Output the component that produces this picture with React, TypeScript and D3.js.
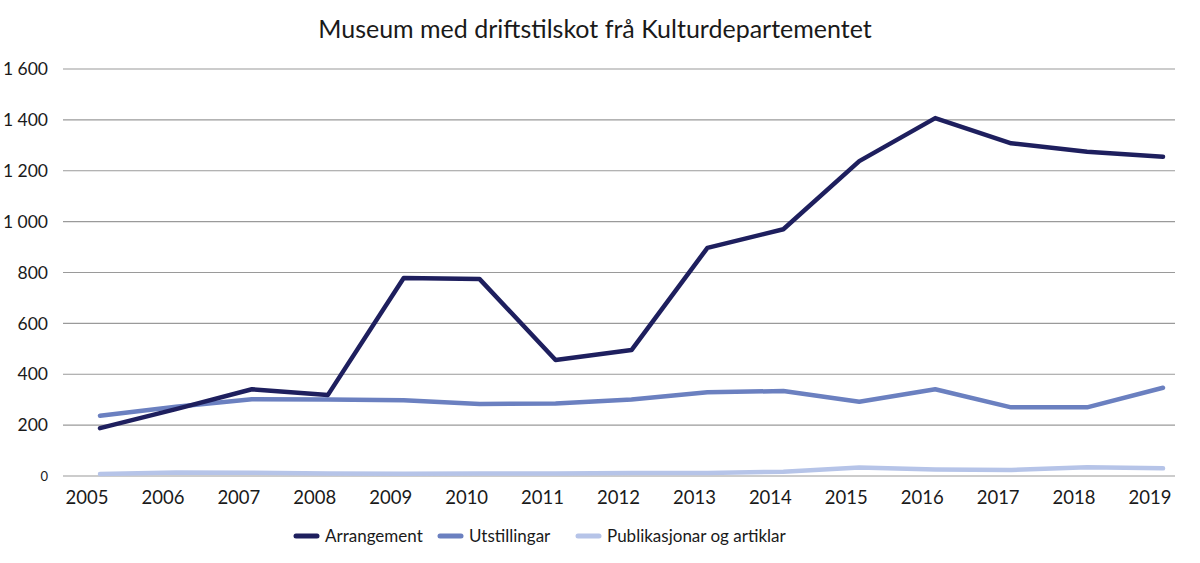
import React from "react";
import * as d3 from "d3";

const years = [2005, 2006, 2007, 2008, 2009, 2010, 2011, 2012, 2013, 2014, 2015, 2016, 2017, 2018, 2019];
const arrangement = [188, 263, 341, 318, 778, 774, 456, 495, 897, 970, 1238, 1407, 1308, 1275, 1255];
const utstillingar = [237, 272, 302, 301, 298, 283, 285, 301, 329, 334, 292, 341, 270, 270, 347];
const publikasjonar = [8, 14, 13, 10, 9, 10, 10, 12, 12, 17, 33, 26, 24, 34, 30];
const yTicks = [0, 200, 400, 600, 800, 1000, 1200, 1400, 1600];
const seriesNames = ["Arrangement", "Utstillingar", "Publikasjonar og artiklar"];
const colors = ["#1e1f5e", "#6b80c0", "#b6c4e8"];
const title = "Museum med driftstilskot frå Kulturdepartementet";

const W = 1200, H = 563;
const FONT = "Lato, 'Open Sans', sans-serif";

export default function App() {
  const x = d3.scaleLinear().domain([2005, 2019]).range([100, 1163]);
  const y = d3.scaleLinear().domain([0, 1600]).range([476, 69]);
  const line = d3.line<number>().x((_, i) => x(years[i])).y((d) => y(d));
  const all = [arrangement, utstillingar, publikasjonar];
  const fmt = (v: number) => d3.format(",")(v).replace(",", " ");
  const legendX = [296, 440, 578];

  return (
    <svg width={W} height={H} style={{ position: "absolute", left: 0, top: 0, background: "#fff" }} fontFamily={FONT}>
      <text x={595} y={38} textAnchor="middle" fontSize={25} fill="#1a1a1a">{title}</text>
      {yTicks.map((t) => (
        <g key={t}>
          <line x1={63} x2={1175} y1={y(t)} y2={y(t)} stroke="#9a9a9a" strokeWidth={1.2} />
          <text x={48} y={y(t)} dy="0.35em" textAnchor="end" fontSize={t === 0 ? 13 : 17.5} fill="#1a1a1a">{fmt(t)}</text>
        </g>
      ))}
      {years.map((yr) => (
        <text key={yr} x={x(yr) - 13} y={504} textAnchor="middle" fontSize={18.5} fill="#1a1a1a">{yr}</text>
      ))}
      {all.slice().reverse().map((s, ri) => {
        const i = all.length - 1 - ri;
        return <path key={i} d={line(s) || ""} fill="none" stroke={colors[i]} strokeWidth={4.5} strokeLinecap="round" strokeLinejoin="round" />;
      })}
      {seriesNames.map((n, i) => (
        <g key={n}>
          <line x1={legendX[i]} x2={legendX[i] + 21} y1={536} y2={536} stroke={colors[i]} strokeWidth={5} strokeLinecap="round" />
          <text x={legendX[i] + 29} y={536} dy="0.35em" fontSize={17} fill="#1a1a1a">{n}</text>
        </g>
      ))}
    </svg>
  );
}
